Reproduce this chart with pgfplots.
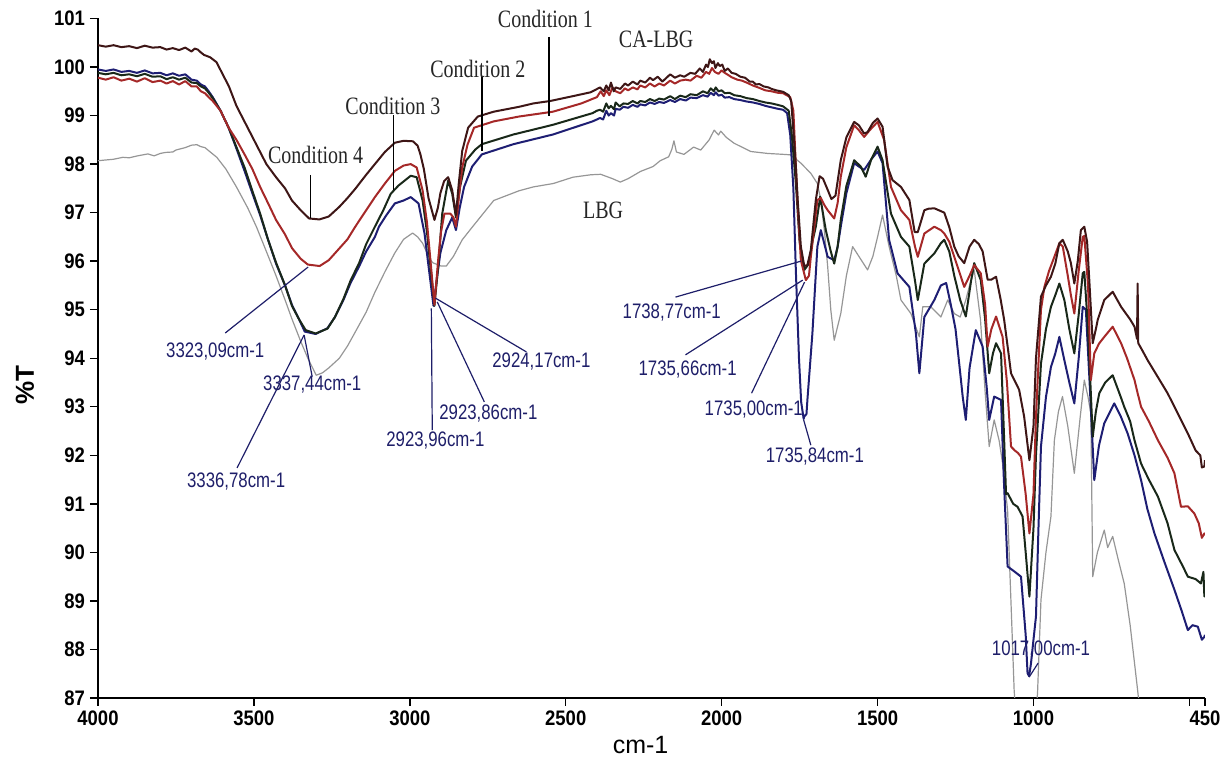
\documentclass[border=0pt]{standalone}
\usepackage{pgfplots}
\pgfplotsset{compat=1.18}
\usepackage{fontspec}
\setmainfont{Liberation Sans}
\newfontfamily\ticksans[FakeStretch=0.88]{Liberation Sans}
\newfontfamily\notesans[FakeStretch=0.8]{Liberation Sans}
\newfontfamily\condserif[FakeStretch=0.8]{Liberation Serif}

\definecolor{cA}{RGB}{62,22,22}
\definecolor{cB}{RGB}{165,40,40}
\definecolor{cC}{RGB}{25,40,25}
\definecolor{cD}{RGB}{30,30,115}
\definecolor{cE}{RGB}{150,150,150}
\definecolor{note}{RGB}{30,30,105}

\begin{document}
\begin{tikzpicture}
\begin{axis}[
  scale only axis,
  width=553.5pt, height=339.75pt,
  x dir=reverse,
  xmin=450, xmax=4000, ymin=87, ymax=101,
  axis lines*=left,
  axis line style={line width=0.9pt},
  clip mode=individual,
  xtick={4000,3500,3000,2500,2000,1500,1000,500,450},
  xticklabels={4000,3500,3000,2500,2000,1500,1000,,450},
  ytick={87,88,...,101},
  tick align=outside,
  major tick length=4pt,
  tick style={line width=0.7pt, black},
  /pgf/number format/assume math mode=true,
  tick label style={font=\ticksans\bfseries\fontsize{10.5}{12}\selectfont},
  yticklabel style={xshift=1pt},
  xticklabel style={yshift=1pt},
  every axis plot/.append style={line join=round, mark=none},
]

\coordinate (sw) at (axis cs:4000,87);
\coordinate (ne) at (axis cs:450,101);

% LBG
\addplot[cE, line width=0.6pt] table {
4000 98.07
3950 98.10
3920 98.14
3900 98.13
3873 98.17
3840 98.21
3820 98.17
3800 98.22
3784 98.24
3760 98.25
3750 98.29
3720 98.34
3700 98.39
3683 98.40
3670 98.36
3657 98.34
3640 98.25
3619 98.14
3590 97.90
3556 97.53
3520 97.10
3492 96.71
3460 96.20
3429 95.70
3400 95.20
3378 94.81
3350 94.35
3327 94.00
3300 93.65
3280 93.70
3260 93.80
3226 94.00
3200 94.25
3175 94.54
3140 94.95
3112 95.36
3080 95.78
3048 96.17
3020 96.45
2991 96.58
2975 96.50
2959 96.37
2940 96.10
2927 95.97
2900 95.90
2883 95.90
2860 96.10
2832 96.44
2800 96.70
2731 97.25
2650 97.45
2604 97.53
2540 97.60
2477 97.73
2420 97.78
2388 97.79
2350 97.70
2325 97.63
2300 97.70
2260 97.85
2220 97.95
2197 98.07
2170 98.15
2160 98.30
2153 98.48
2145 98.25
2121 98.20
2090 98.35
2067 98.29
2040 98.50
2024 98.70
2010 98.60
2003 98.68
1985 98.55
1960 98.43
1907 98.26
1853 98.22
1800 98.20
1778 98.19
1746 98.02
1714 97.81
1693 97.60
1682 97.26
1670 96.60
1660 95.89
1650 95.00
1639 94.37
1618 94.92
1600 95.70
1580 96.30
1559 96.09
1532 95.82
1515 96.10
1500 96.50
1484 96.95
1463 96.30
1440 95.70
1425 95.20
1393 94.92
1366 94.44
1355 95.06
1329 95.06
1297 94.85
1275 95.20
1254 94.92
1235 94.85
1217 95.20
1205 95.50
1190 95.82
1170 94.80
1155 93.30
1142 92.18
1126 92.73
1110 92.30
1099 91.83
1083 90.87
1070 88.60
1062 87.16
1055 86.50
995 86.50
987 87.10
976 89.02
960 90.00
944 90.74
938 91.60
933 92.31
920 92.90
907 93.21
890 92.60
869 91.63
850 92.80
837 93.55
825 93.20
816 92.86
810 89.50
795 90.00
773 90.46
762 90.10
746 90.33
730 89.90
709 89.36
690 88.50
666 87.16
655 86.50
};

% Condition (blue)
\addplot[cD, line width=1pt] table {
4000 99.95
3975 99.92
3950 99.95
3925 99.90
3900 99.92
3875 99.88
3850 99.93
3825 99.87
3800 99.88
3780 99.83
3760 99.87
3740 99.82
3720 99.85
3700 99.74
3683 99.72
3670 99.64
3657 99.60
3645 99.50
3632 99.38
3607 99.10
3581 98.75
3556 98.32
3530 97.86
3505 97.40
3480 96.95
3455 96.45
3429 95.95
3400 95.50
3378 95.10
3355 94.80
3337 94.55
3302 94.50
3264 94.62
3240 94.85
3213 95.20
3190 95.55
3162 95.90
3140 96.20
3112 96.50
3099 96.71
3075 96.95
3048 97.19
3020 97.25
2997 97.32
2972 97.19
2953 96.58
2940 95.90
2924 95.08
2912 95.70
2902 96.17
2883 96.64
2864 96.90
2852 96.64
2840 97.10
2826 97.53
2800 97.95
2769 98.20
2668 98.41
2541 98.61
2414 98.88
2400 98.92
2390 98.95
2380 98.92
2370 99.10
2362 99.00
2355 99.05
2345 99.00
2340 99.14
2327 99.12
2315 99.18
2300 99.16
2285 99.22
2270 99.18
2261 99.23
2245 99.21
2230 99.27
2215 99.24
2200 99.28
2185 99.26
2165 99.32
2150 99.28
2133 99.34
2115 99.31
2100 99.37
2080 99.36
2060 99.42
2045 99.39
2035 99.47
2025 99.42
2019 99.48
2010 99.41
2000 99.43
1990 99.37
1975 99.38
1960 99.34
1940 99.32
1920 99.29
1900 99.27
1879 99.24
1860 99.20
1840 99.17
1820 99.14
1803 99.12
1790 99.05
1780 98.60
1770 97.50
1762 95.80
1752 94.00
1745 93.10
1737 92.75
1735 92.80
1728 92.85
1725 93.14
1709 94.51
1693 96.30
1682 96.64
1660 96.09
1639 96.02
1628 96.30
1618 96.71
1600 97.40
1575 98.02
1560 97.95
1543 97.88
1520 98.10
1500 98.26
1484 98.02
1463 96.44
1436 95.75
1398 95.47
1377 94.51
1366 93.69
1350 94.85
1318 95.20
1297 95.50
1280 95.55
1265 95.10
1250 94.60
1235 93.70
1227 93.21
1217 92.73
1205 93.80
1185 94.58
1163 94.24
1150 93.40
1142 92.73
1126 93.21
1104 93.14
1095 91.50
1083 89.71
1060 89.60
1040 89.50
1025 88.30
1019 87.51
1014 87.45
1008 87.71
1000 88.20
992 88.68
984 90.50
976 92.18
960 93.20
944 93.82
930 94.10
917 94.44
901 93.96
885 93.50
869 93.07
855 94.00
842 95.06
832 95.00
820 93.50
805 91.49
790 92.20
773 92.66
741 93.07
720 92.80
698 92.45
676 92.00
655 91.49
635 90.90
612 90.39
580 89.80
548 89.23
525 88.80
505 88.40
490 88.50
473 88.47
460 88.20
452 88.26
450 88.30
};

% Condition (black)
\addplot[cC, line width=1pt] table {
4000 99.88
3975 99.85
3950 99.88
3925 99.83
3900 99.85
3875 99.81
3850 99.86
3825 99.80
3800 99.81
3780 99.75
3760 99.79
3740 99.74
3720 99.78
3700 99.68
3683 99.67
3670 99.60
3657 99.56
3645 99.47
3632 99.36
3607 99.10
3581 98.75
3556 98.35
3530 97.93
3505 97.45
3480 96.98
3455 96.45
3429 95.97
3400 95.50
3378 95.08
3355 94.80
3334 94.58
3302 94.51
3264 94.61
3240 94.85
3213 95.22
3190 95.60
3162 95.97
3140 96.35
3112 96.71
3085 97.05
3061 97.39
3036 97.56
2997 97.76
2978 97.73
2959 97.25
2945 96.60
2934 95.90
2921 95.08
2909 95.90
2896 96.98
2877 97.66
2864 97.39
2852 96.90
2839 97.53
2820 98.07
2790 98.30
2769 98.41
2668 98.61
2541 98.81
2414 99.05
2400 99.10
2390 99.12
2380 99.08
2370 99.25
2362 99.15
2355 99.20
2345 99.13
2340 99.27
2327 99.19
2315 99.25
2300 99.24
2285 99.30
2270 99.25
2261 99.30
2245 99.28
2230 99.34
2215 99.30
2200 99.35
2185 99.33
2165 99.40
2150 99.34
2133 99.41
2115 99.38
2100 99.44
2080 99.42
2060 99.50
2045 99.46
2035 99.56
2025 99.50
2019 99.58
2010 99.50
2000 99.52
1990 99.46
1975 99.47
1960 99.42
1940 99.40
1920 99.36
1900 99.34
1879 99.30
1860 99.27
1840 99.25
1820 99.22
1803 99.19
1785 99.10
1775 98.60
1762 97.60
1750 96.40
1735 95.82
1720 95.95
1709 96.40
1698 96.71
1684 97.33
1666 96.64
1650 96.20
1639 95.95
1628 96.30
1618 96.85
1600 97.55
1575 98.08
1554 97.95
1538 97.74
1520 98.10
1500 98.36
1484 98.08
1457 96.98
1425 96.50
1398 96.30
1380 95.60
1371 95.20
1350 95.95
1318 96.16
1297 96.37
1286 96.44
1270 96.20
1254 95.70
1235 95.20
1217 94.86
1200 95.60
1190 95.96
1169 95.61
1155 94.80
1142 93.69
1130 94.10
1120 94.31
1104 94.10
1095 92.50
1088 91.20
1083 91.22
1065 91.00
1051 90.94
1035 90.74
1025 90.00
1013 89.09
1000 90.50
992 92.00
976 93.89
960 94.60
944 95.06
930 95.30
917 95.54
901 95.20
885 94.60
869 94.10
855 94.90
842 95.75
837 95.78
825 94.60
810 92.38
800 92.90
789 93.28
770 93.50
746 93.65
720 93.20
709 93.00
690 92.70
676 92.31
655 91.83
630 91.50
601 91.15
570 90.60
548 90.05
520 89.70
505 89.50
480 89.45
463 89.36
455 89.60
452 89.09
450 89.20
};

% Condition (red)
\addplot[cB, line width=1pt] table {
4000 99.78
3975 99.74
3950 99.79
3925 99.72
3900 99.76
3875 99.70
3850 99.77
3825 99.69
3800 99.72
3780 99.66
3760 99.71
3740 99.64
3720 99.71
3700 99.60
3683 99.60
3670 99.50
3657 99.46
3645 99.38
3632 99.30
3607 99.10
3581 98.75
3556 98.50
3530 98.20
3505 97.90
3480 97.53
3455 97.20
3429 96.85
3400 96.55
3378 96.27
3350 96.05
3327 95.93
3289 95.90
3260 96.02
3239 96.17
3200 96.45
3175 96.71
3140 97.05
3112 97.32
3080 97.60
3048 97.86
3020 97.97
2997 98.00
2978 97.93
2959 97.46
2945 96.80
2934 96.03
2921 95.10
2909 96.03
2900 96.60
2889 96.98
2870 96.98
2860 96.90
2852 96.71
2843 97.30
2832 97.93
2815 98.40
2794 98.75
2731 98.88
2650 98.98
2541 99.08
2450 99.25
2400 99.38
2388 99.50
2378 99.40
2370 99.52
2360 99.42
2350 99.58
2340 99.50
2325 99.46
2310 99.56
2300 99.52
2285 99.58
2270 99.54
2261 99.62
2245 99.58
2230 99.66
2215 99.60
2200 99.66
2185 99.62
2165 99.72
2150 99.66
2133 99.72
2115 99.74
2100 99.72
2080 99.82
2065 99.78
2050 99.90
2040 99.86
2031 99.98
2022 99.90
2010 99.86
2000 99.93
1990 99.88
1980 99.84
1968 99.79
1950 99.74
1935 99.72
1920 99.68
1900 99.62
1879 99.57
1860 99.52
1840 99.50
1820 99.47
1803 99.46
1780 99.38
1770 99.10
1757 97.26
1746 96.02
1730 95.61
1720 95.70
1714 96.09
1693 97.26
1682 97.30
1670 97.15
1660 97.05
1639 96.88
1628 97.20
1618 97.74
1600 98.35
1575 98.80
1560 98.70
1543 98.56
1525 98.70
1500 98.87
1479 98.50
1457 97.53
1425 97.05
1398 96.85
1380 96.30
1371 96.09
1350 96.57
1318 96.71
1297 96.64
1286 96.57
1270 96.40
1254 96.09
1222 95.47
1205 95.70
1190 95.92
1169 95.75
1155 95.10
1147 94.24
1135 94.60
1120 94.86
1099 94.44
1085 93.50
1072 92.18
1060 92.10
1050 92.05
1040 91.97
1025 91.20
1013 90.39
1000 91.20
992 92.80
976 95.00
965 95.47
950 95.80
933 96.09
917 96.37
906 96.30
890 95.70
880 95.30
869 94.92
855 95.80
842 96.50
837 96.52
825 95.50
816 93.55
805 94.10
790 94.30
773 94.44
746 94.65
719 94.31
700 94.00
676 93.55
666 93.28
655 93.00
630 92.70
601 92.31
570 91.95
548 91.63
527 90.94
505 90.95
484 90.80
470 90.60
460 90.30
452 90.39
450 90.35
};

% Condition (dark, top)
\addplot[cA, line width=1pt] table {
4000 100.45
3975 100.42
3950 100.45
3925 100.41
3900 100.43
3875 100.39
3850 100.44
3825 100.40
3800 100.41
3780 100.36
3760 100.39
3740 100.35
3720 100.40
3700 100.32
3690 100.38
3680 100.36
3670 100.30
3660 100.25
3640 100.20
3620 100.10
3600 99.85
3580 99.60
3556 99.20
3520 98.75
3492 98.40
3460 98.00
3429 97.73
3400 97.50
3378 97.25
3350 97.05
3323 96.88
3290 96.86
3260 96.92
3226 97.12
3200 97.30
3175 97.49
3140 97.78
3112 98.00
3080 98.25
3048 98.44
3020 98.48
2990 98.47
2975 98.38
2966 98.20
2955 97.90
2940 97.30
2921 96.85
2910 97.10
2902 97.40
2890 97.65
2877 97.73
2864 97.46
2852 96.95
2843 97.60
2832 98.27
2813 98.75
2782 98.98
2731 99.08
2650 99.18
2604 99.25
2550 99.30
2477 99.40
2420 99.48
2390 99.58
2378 99.50
2370 99.62
2362 99.52
2355 99.68
2346 99.50
2340 99.58
2325 99.55
2310 99.66
2300 99.62
2285 99.70
2270 99.64
2261 99.72
2245 99.68
2230 99.78
2220 99.73
2205 99.80
2190 99.70
2180 99.76
2165 99.85
2150 99.78
2133 99.83
2120 99.80
2100 99.88
2085 99.86
2070 99.97
2060 99.90
2050 100.05
2044 100.00
2038 100.16
2031 100.08
2025 100.12
2020 99.98
2012 100.08
2006 100.02
1998 100.05
1990 99.92
1980 99.97
1968 99.88
1955 99.86
1940 99.80
1925 99.78
1910 99.70
1900 99.70
1890 99.64
1879 99.65
1865 99.60
1850 99.58
1840 99.55
1825 99.52
1810 99.50
1803 99.49
1785 99.42
1777 99.30
1769 98.60
1762 97.95
1756 97.25
1746 96.30
1735 95.90
1725 95.92
1714 96.23
1698 97.26
1686 97.75
1675 97.70
1660 97.47
1648 97.28
1635 97.35
1618 98.08
1600 98.55
1575 98.87
1560 98.80
1543 98.63
1532 98.66
1515 98.85
1500 98.94
1484 98.77
1468 97.95
1452 97.67
1425 97.53
1398 97.26
1381 96.60
1371 96.60
1350 97.05
1337 97.08
1318 97.09
1286 97.00
1270 96.70
1254 96.30
1240 96.10
1222 95.96
1205 96.30
1190 96.44
1175 96.35
1163 96.20
1147 95.62
1135 95.62
1120 95.68
1105 95.20
1094 94.79
1080 94.10
1072 93.69
1046 93.35
1030 92.80
1013 91.90
1000 92.60
992 94.00
976 95.27
960 95.50
944 95.68
930 95.95
917 96.37
906 96.44
890 96.20
880 95.96
869 95.54
858 96.00
848 96.64
837 96.71
828 96.40
821 95.61
810 94.31
800 94.60
794 94.79
773 95.20
746 95.37
719 95.06
690 94.80
676 94.65
668 94.40
666 95.54
664 94.31
650 94.15
634 93.96
600 93.60
570 93.28
540 92.90
505 92.45
480 92.10
465 92.00
460 91.75
452 91.77
450 91.90
};

% sample labels
\draw[black, line width=0.8pt] (axis cs:2553,100.62) -- (axis cs:2553,99.0);
\draw[black, line width=0.8pt] (axis cs:2769,99.82) -- (axis cs:2769,98.26);
\draw[black, line width=0.8pt] (axis cs:3052,99.01) -- (axis cs:3052,97.47);
\draw[black, line width=0.8pt] (axis cs:3319,97.78) -- (axis cs:3319,96.88);
\begin{scope}[every node/.style={font=\condserif\fontsize{12.5}{14}\selectfont, text=black!85, inner sep=0pt}]
\node at (axis cs:2565,101.0) {Condition 1};
\node at (axis cs:2782,99.97) {Condition 2};
\node at (axis cs:3054,99.2) {Condition 3};
\node at (axis cs:3302,98.19) {Condition 4};
\node at (axis cs:2210,100.57) {CA-LBG};
\node at (axis cs:2380,97.05) {LBG};
\end{scope}

% peak annotations
\begin{scope}[note, line width=0.6pt]
\draw (axis cs:3592,94.52) -- (axis cs:3326,95.88);
\draw (axis cs:3339,94.48) -- (axis cs:3313,93.62);
\draw (axis cs:3339,94.48) -- (axis cs:3554,91.74);
\draw (axis cs:2918,95.24) -- (axis cs:2626,94.13);
\draw (axis cs:2912,95.16) -- (axis cs:2761,93.10);
\draw (axis cs:2931,95.03) -- (axis cs:2928,92.52);
\draw (axis cs:2148,95.26) -- (axis cs:1746,96.00);
\draw (axis cs:2116,94.07) -- (axis cs:1740,95.61);
\draw (axis cs:1904,93.28) -- (axis cs:1734,95.57);
\draw (axis cs:1737,92.73) -- (axis cs:1714,92.21);
\draw (axis cs:1014,87.43) -- (axis cs:985,87.72);
\end{scope}
\begin{scope}[every node/.style={font=\notesans\fontsize{10.5}{12}\selectfont, text=note, inner sep=0pt}]
\node at (axis cs:3624,94.13) {3323,09cm-1};
\node at (axis cs:3313,93.45) {3337,44cm-1};
\node at (axis cs:3557,91.47) {3336,78cm-1};
\node at (axis cs:2578,93.94) {2924,17cm-1};
\node at (axis cs:2748,92.87) {2923,86cm-1};
\node at (axis cs:2918,92.30) {2923,96cm-1};
\node at (axis cs:2160,94.95) {1738,77cm-1};
\node at (axis cs:2109,93.76) {1735,66cm-1};
\node at (axis cs:1897,92.95) {1735,00cm-1};
\node at (axis cs:1701,91.97) {1735,84cm-1};
\node at (axis cs:976,87.99) {1017,00cm-1};
\end{scope}

% axis titles
\node[rotate=90, font=\bfseries\fontsize{13}{15}\selectfont, inner sep=0pt] at ([xshift=-36.5pt]axis cs:4000,93.45) {\%T};
\node[font=\fontsize{12.5}{14}\selectfont, inner sep=0pt] at (axis cs:2260,86.03) {cm-1};
\end{axis}
\pgfresetboundingbox
\path[use as bounding box] ([shift={(-49pt,-31.5pt)}]sw) rectangle ([shift={(9pt,9.25pt)}]ne);
\end{tikzpicture}
\end{document}
